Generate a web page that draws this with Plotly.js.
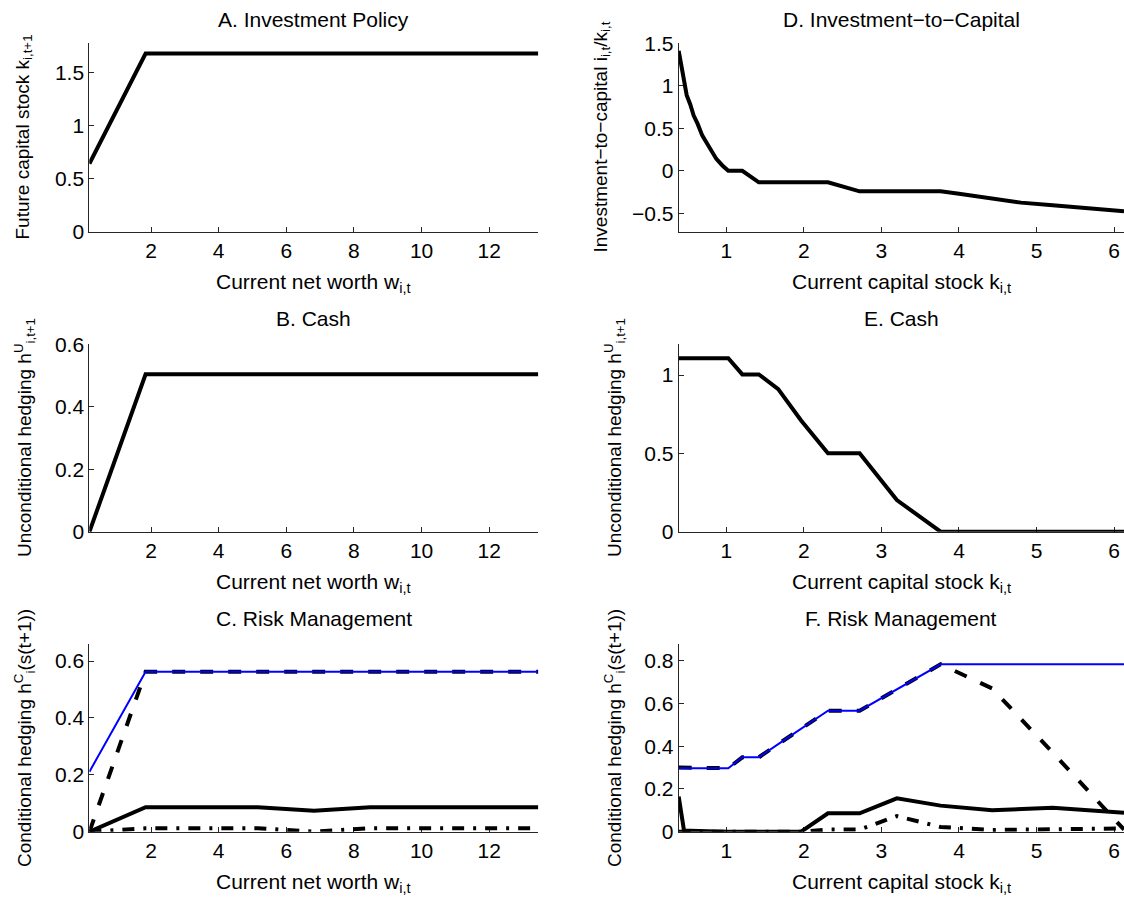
<!DOCTYPE html>
<html>
<head>
<meta charset="utf-8">
<script src="https://cdn.plot.ly/plotly-3.0.1.min.js"></script>
<style>html,body{margin:0;padding:0;background:#fff;}#chart{width:1124px;height:904px;}</style>
</head>
<body>
<div id="chart"></div>
<script>
// ---------- data ----------
// left column: current net worth grid
const wGrid      = [0.18, 1.84, 3.50, 5.16, 6.82, 8.48, 10.14, 11.80, 13.45];
const kNextA     = [0.64, 1.675, 1.675, 1.675, 1.675, 1.675, 1.675, 1.675, 1.675];
const cashB      = [0.0, 0.504, 0.504, 0.504, 0.504, 0.504, 0.504, 0.504, 0.504];
const hedgeC_blue    = [0.211, 0.562, 0.562, 0.562, 0.562, 0.562, 0.562, 0.562, 0.562];
const hedgeC_dash    = [0.0, 0.562, 0.562, 0.562, 0.562, 0.562, 0.562, 0.562, 0.562];
const hedgeC_solid   = [0.0, 0.086, 0.086, 0.086, 0.074, 0.086, 0.086, 0.086, 0.086];
const hedgeC_dashdot = [0.0, 0.012, 0.012, 0.012, 0.0, 0.012, 0.012, 0.012, 0.012];

// right column: current capital stock grid
const kGrid = [0.387, 0.455, 0.536, 0.630, 0.741, 0.872, 1.026, 1.207, 1.420, 1.670, 1.965, 2.311, 2.719, 3.199, 3.763, 4.427, 5.208, 6.127];
const kD    = [0.387, 0.42, 0.455, 0.49, 0.536, 0.58, 0.630, 0.69, 0.741, 0.80, 0.872, 0.95, 1.026, 1.207, 1.420, 1.670, 1.965, 2.311, 2.719, 3.199, 3.763, 4.0, 4.427, 4.8, 5.208, 5.6, 6.127];
const invCapD = [1.41, 1.24, 1.07, 0.89, 0.78, 0.65, 0.555, 0.417, 0.34, 0.25, 0.14, 0.063, 0.0, 0.0, -0.135, -0.135, -0.135, -0.135, -0.241, -0.241, -0.241, -0.27, -0.33, -0.374, -0.406, -0.441, -0.477];
const cashE   = [1.107, 1.107, 1.107, 1.107, 1.107, 1.107, 1.107, 1.004, 1.004, 0.91, 0.71, 0.50, 0.50, 0.202, 0.0, 0.0, 0.0, 0.0];
const hedgeF_blue    = [0.297, 0.297, 0.297, 0.297, 0.297, 0.297, 0.297, 0.348, 0.348, 0.41, 0.48, 0.566, 0.566, 0.665, 0.783, 0.783, 0.783, 0.783];
const hedgeF_dash    = [0.300, 0.300, 0.300, 0.300, 0.300, 0.300, 0.297, 0.348, 0.348, 0.41, 0.48, 0.566, 0.566, 0.665, 0.783, 0.67, 0.37, 0.01];
const hedgeF_solid   = [0.164, 0.006, 0.005, 0.003, 0.002, 0.001, 0.0, 0.0, 0.0, 0.0, 0.0, 0.086, 0.086, 0.156, 0.122, 0.10, 0.112, 0.089];
const hedgeF_dashdot = [0.0, 0.0, 0.0, 0.0, 0.0, 0.0, 0.0, 0.0, 0.0, 0.0, 0.0, 0.01, 0.01, 0.073, 0.022, 0.008, 0.013, 0.015];

const leftTicks  = [2, 4, 6, 8, 10, 12];
const rightTicks = [1, 2, 3, 4, 5, 6];

// ---------- layout helpers ----------
const W = 1124, H = 904;
const px = v => v / W;
const py = v => 1 - v / H;
const FONT = 'Liberation Sans, Arial, Helvetica, sans-serif';

const colL = [px(89.3), px(538.3)];
const colR = [px(678.7), 1];
const rows = [[py(231.7), py(43.3)], [py(531.7), py(344.3)], [py(831.7), py(644)]];

function axisBase(extra) {
  return Object.assign({
    showline: true, linecolor: '#262626', linewidth: 1, mirror: false,
    ticks: 'inside', ticklen: 5, tickwidth: 1, tickcolor: '#262626',
    showgrid: false, zeroline: false, layer: 'below traces',
    tickfont: {family: FONT, size: 21, color: '#000'},
    fixedrange: true
  }, extra);
}

const BLACK = '#000000';
function tr(x, y, xa, ya, dash, color, width) {
  return {x: x, y: y, xaxis: xa, yaxis: ya, type: 'scatter', mode: 'lines',
          cliponaxis: false, hoverinfo: 'skip', showlegend: false,
          line: {color: color || BLACK, width: width || 4, dash: dash || 'solid'}};
}
const DASH = '13px,15px';
const DASHDOT = '12px,9px,3px,9px';

const data = [
  tr(wGrid, kNextA, 'x', 'y'),
  tr(wGrid, cashB, 'x2', 'y2'),
  tr(wGrid, hedgeC_solid, 'x3', 'y3'),
  tr(wGrid, hedgeC_dashdot, 'x3', 'y3', DASHDOT),
  tr(wGrid, hedgeC_dash, 'x3', 'y3', DASH),
  tr(wGrid, hedgeC_blue, 'x3', 'y3', 'solid', '#0000ff', 2),
  tr(kD, invCapD, 'x4', 'y4'),
  tr(kGrid, cashE, 'x5', 'y5'),
  tr(kGrid, hedgeF_solid, 'x6', 'y6'),
  tr(kGrid, hedgeF_dashdot, 'x6', 'y6', DASHDOT),
  tr(kGrid, hedgeF_dash, 'x6', 'y6', DASH),
  tr(kGrid, hedgeF_blue, 'x6', 'y6', 'solid', '#0000ff', 2)
];

const xL = {range: [0.176, 13.45], tickvals: leftTicks};
const xR = {range: [0.387, 6.127], tickvals: rightTicks};

const layout = {
  width: W, height: H,
  margin: {l: 0, r: 0, t: 0, b: 0, pad: 0},
  paper_bgcolor: '#fff', plot_bgcolor: '#fff',
  font: {family: FONT, color: '#000'},
  showlegend: false,
  xaxis:  axisBase(Object.assign({domain: colL, anchor: 'y'}, xL)),
  xaxis2: axisBase(Object.assign({domain: colL, anchor: 'y2'}, xL)),
  xaxis3: axisBase(Object.assign({domain: colL, anchor: 'y3'}, xL)),
  xaxis4: axisBase(Object.assign({domain: colR, anchor: 'y4'}, xR)),
  xaxis5: axisBase(Object.assign({domain: colR, anchor: 'y5'}, xR)),
  xaxis6: axisBase(Object.assign({domain: colR, anchor: 'y6'}, xR)),
  yaxis:  axisBase({domain: rows[0], anchor: 'x',  range: [0, 1.772], tickvals: [0, 0.5, 1, 1.5], ticktext: ['0', '0.5', '1', '1.5']}),
  yaxis2: axisBase({domain: rows[1], anchor: 'x2', range: [0, 0.6],   tickvals: [0, 0.2, 0.4, 0.6], ticktext: ['0', '0.2', '0.4', '0.6']}),
  yaxis3: axisBase({domain: rows[2], anchor: 'x3', range: [0, 0.66],  tickvals: [0, 0.2, 0.4, 0.6], ticktext: ['0', '0.2', '0.4', '0.6']}),
  yaxis4: axisBase({domain: rows[0], anchor: 'x4', range: [-0.716, 1.5], tickvals: [-0.5, 0, 0.5, 1, 1.5], ticktext: ['\u22120.5', '0', '0.5', '1', '1.5']}),
  yaxis5: axisBase({domain: rows[1], anchor: 'x5', range: [0, 1.196], tickvals: [0, 0.5, 1], ticktext: ['0', '0.5', '1']}),
  yaxis6: axisBase({domain: rows[2], anchor: 'x6', range: [0, 0.878], tickvals: [0, 0.2, 0.4, 0.6, 0.8], ticktext: ['0', '0.2', '0.4', '0.6', '0.8']}),
  annotations: []
};

function ann(text, x, y, size, angle) {
  layout.annotations.push({
    text: text, xref: 'paper', yref: 'paper', x: px(x), y: py(y),
    xanchor: 'center', yanchor: 'middle', showarrow: false,
    textangle: angle || 0, font: {family: FONT, size: size, color: '#000'}
  });
}
const cL = (89.3 + 538.3) / 2, cR = (678.7 + 1124) / 2;
// titles
ann('A. Investment Policy', cL, 19, 21);
ann('B. Cash', cL, 318, 21);
ann('C. Risk Management', cL, 618, 21);
ann('D. Investment\u2212to\u2212Capital', cR, 19, 21);
ann('E. Cash', cR, 318, 21);
ann('F. Risk Management', cR, 618, 21);
// x labels
ann('Current net worth w<sub>i,t</sub>', cL, 283, 21);
ann('Current net worth w<sub>i,t</sub>', cL, 583, 21);
ann('Current net worth w<sub>i,t</sub>', cL, 883, 21);
ann('Current capital stock k<sub>i,t</sub>', cR, 283, 21);
ann('Current capital stock k<sub>i,t</sub>', cR, 583, 21);
ann('Current capital stock k<sub>i,t</sub>', cR, 883, 21);
// y labels
ann('Future capital stock k<sub>i,t+1</sub>', 24, 137.5, 19, -90);
ann('Unconditional hedging h<sup>U</sup><sub>i,t+1</sub>', 24, 438, 19, -90);
ann('Conditional hedging h<sup>C</sup><sub>i</sub>(s(t+1))', 24, 738, 19, -90);
ann('Investment\u2212to\u2212capital i<sub>i,t</sub>/k<sub>i,t</sub>', 602, 137.5, 19, -90);
ann('Unconditional hedging h<sup>U</sup><sub>i,t+1</sub>', 614, 438, 19, -90);
ann('Conditional hedging h<sup>C</sup><sub>i</sub>(s(t+1))', 614, 738, 19, -90);

Plotly.newPlot('chart', data, layout, {staticPlot: true, displayModeBar: false});
</script>
</body>
</html>
